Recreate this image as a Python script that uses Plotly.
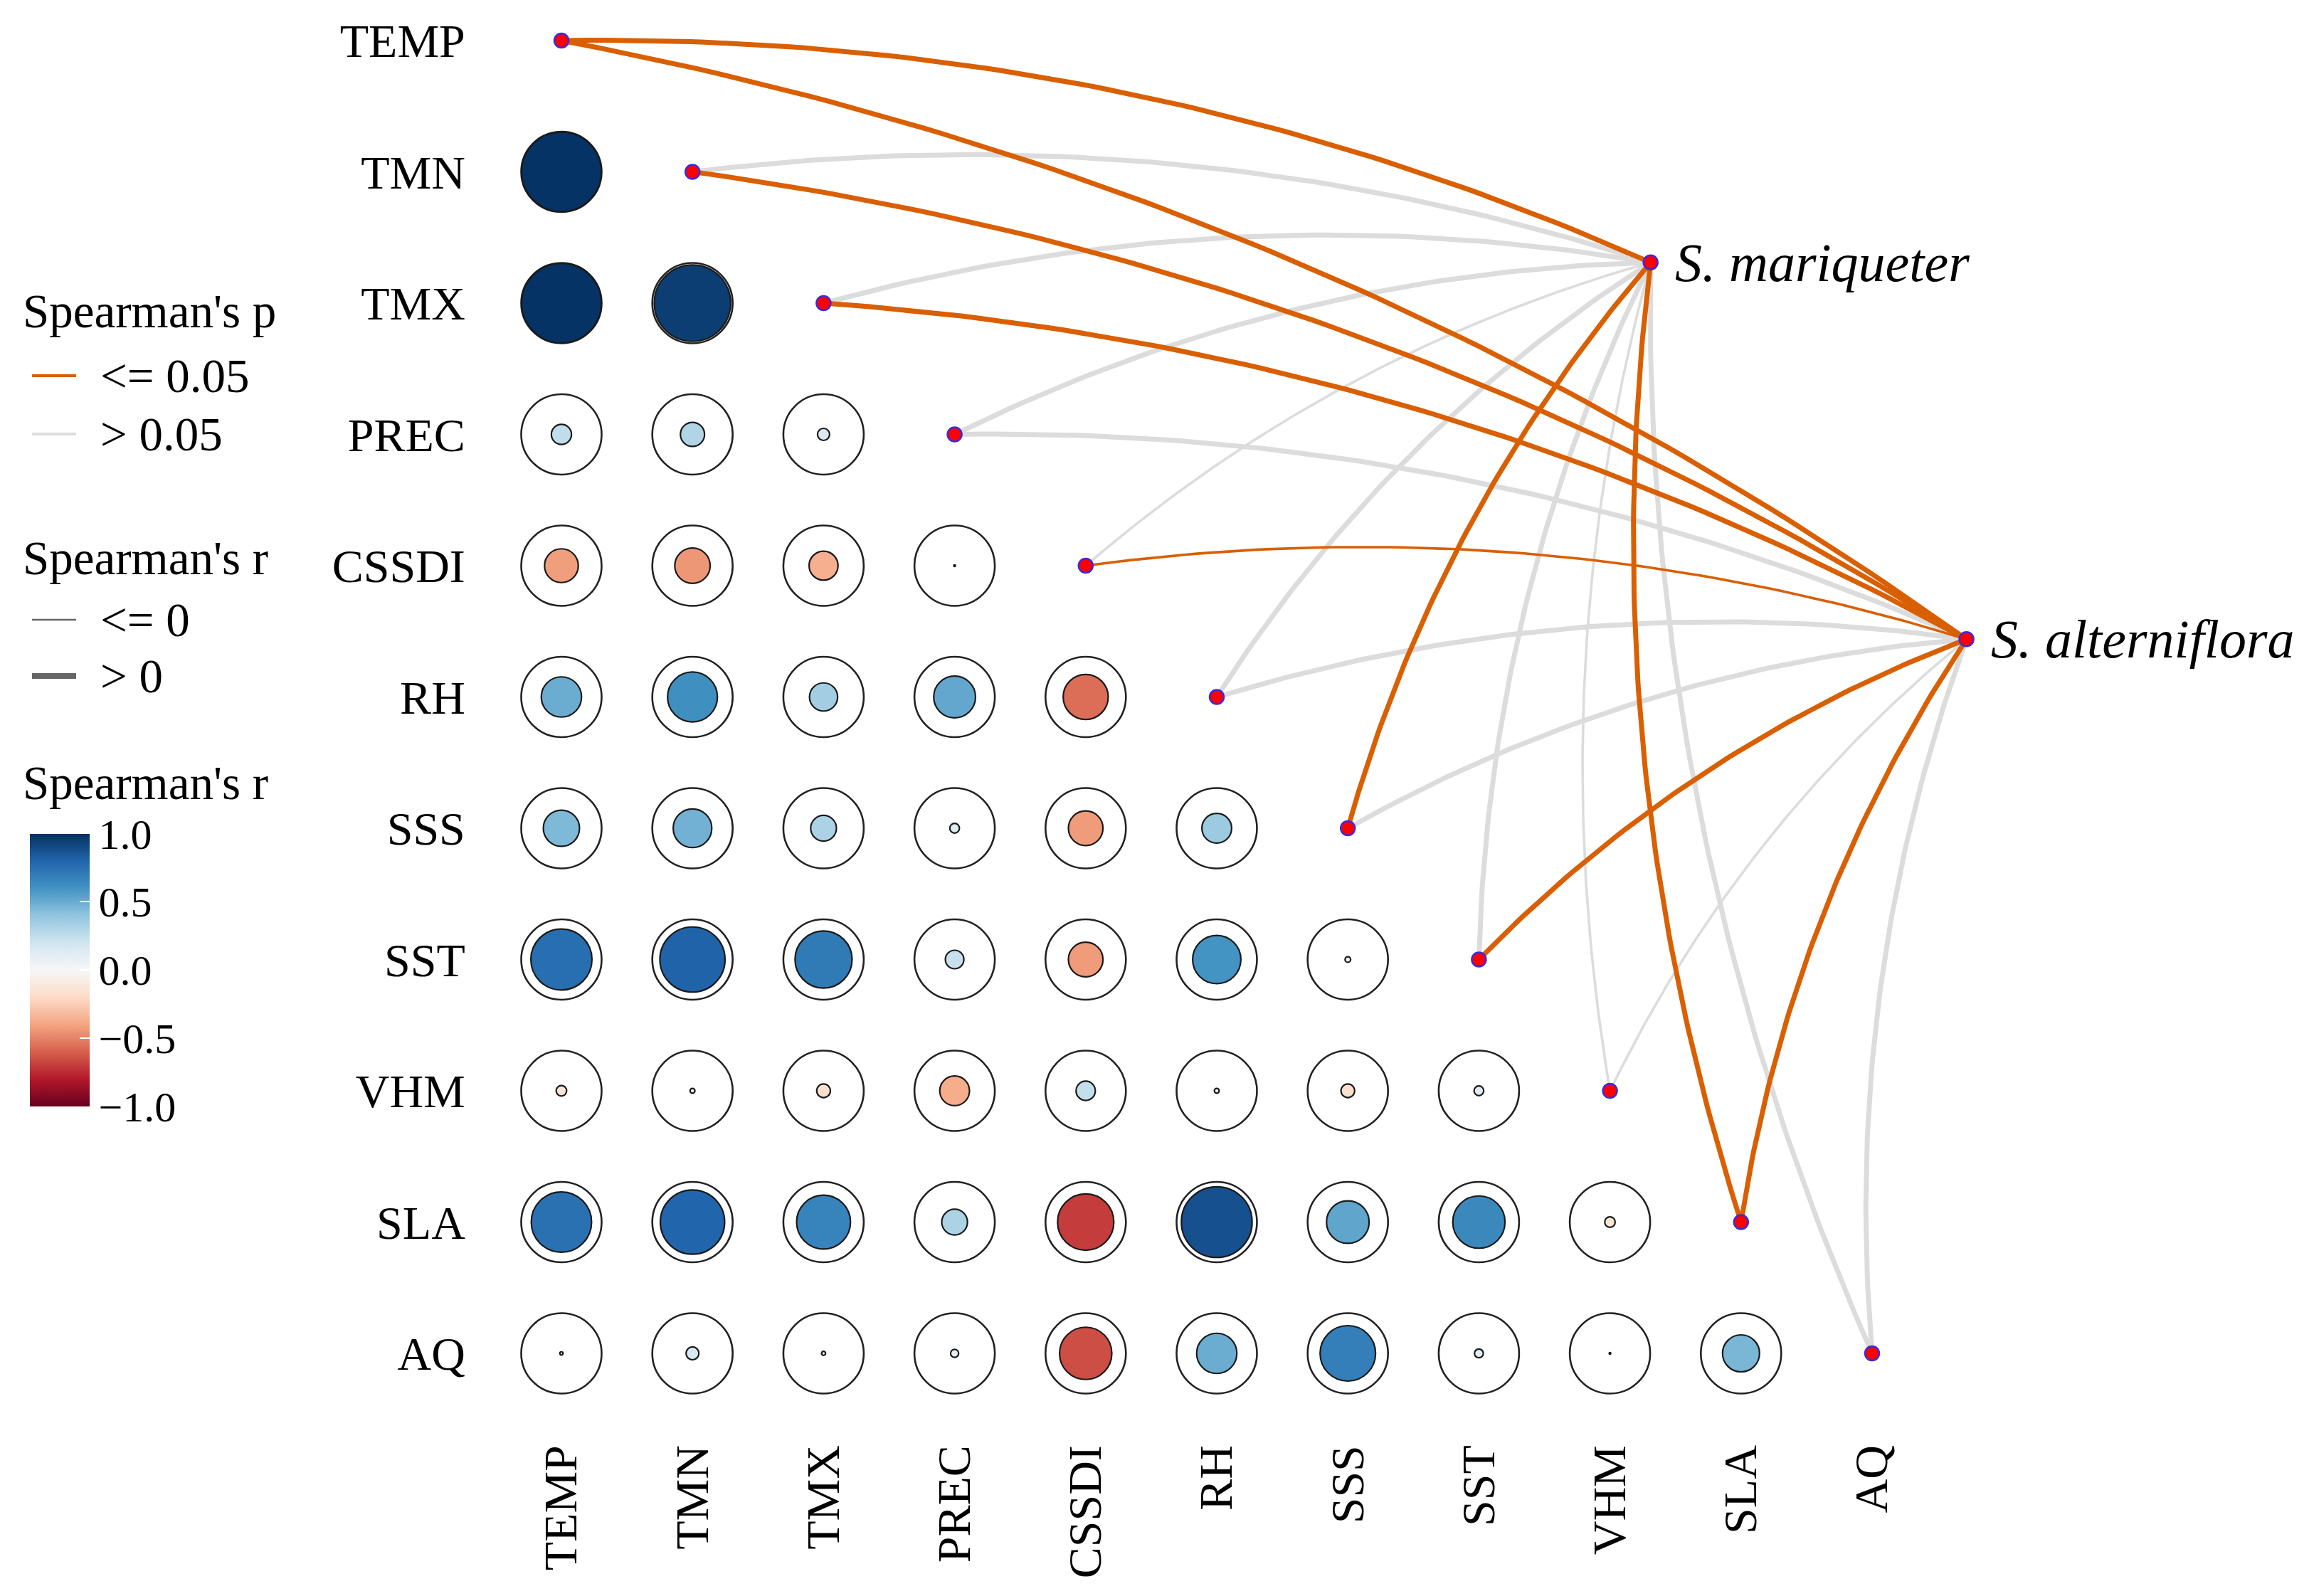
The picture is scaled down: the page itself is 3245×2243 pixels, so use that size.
import numpy as np
import plotly.graph_objects as go

# ---------------- data ----------------
variables = ["TEMP", "TMN", "TMX", "PREC", "CSSDI", "RH", "SSS", "SST", "VHM", "SLA", "AQ"]

# Spearman's r, lower triangle (row variable vs earlier column variables)
r_TMN = [0.99]
r_TMX = [0.99, 0.95]
r_PREC = [0.25, 0.30, 0.15]
r_CSSDI = [-0.42, -0.44, -0.36, -0.02]
r_RH = [0.50, 0.62, 0.35, 0.52, -0.56]
r_SSS = [0.45, 0.48, 0.32, 0.12, -0.43, 0.37]
r_SST = [0.76, 0.81, 0.71, 0.23, -0.43, 0.60, 0.07]
r_VHM = [-0.13, 0.06, -0.17, -0.37, 0.24, 0.06, -0.17, 0.12]
r_SLA = [0.75, 0.80, 0.67, 0.32, -0.70, 0.88, 0.53, 0.65, -0.13]
r_AQ = [0.04, 0.16, 0.05, 0.10, -0.65, 0.50, 0.69, 0.11, 0.02, 0.46]
r_rows = [[], r_TMN, r_TMX, r_PREC, r_CSSDI, r_RH, r_SSS, r_SST, r_VHM, r_SLA, r_AQ]

species = ["S. mariqueter", "S. alterniflora"]
species_x = [8.31, 10.72]   # node position (column units)
species_y = [1.69, 4.56]    # node position (row units)

# Mantel-type links: p class and r class for each variable
p_mariqueter = ["<=0.05", ">0.05", ">0.05", ">0.05", ">0.05", ">0.05", "<=0.05", ">0.05", ">0.05", "<=0.05", ">0.05"]
r_mariqueter = [">0", ">0", ">0", ">0", "<=0", ">0", ">0", ">0", "<=0", ">0", ">0"]
p_alterniflora = ["<=0.05", "<=0.05", "<=0.05", ">0.05", "<=0.05", ">0.05", ">0.05", "<=0.05", ">0.05", "<=0.05", ">0.05"]
r_alterniflora = [">0", ">0", ">0", ">0", "<=0", ">0", ">0", ">0", "<=0", ">0", ">0"]
p_classes = [p_mariqueter, p_alterniflora]
r_classes = [r_mariqueter, r_alterniflora]

# ---------------- style ----------------
W, H = 3245, 2243
ML, MR, MT, MB = 690, 0, 0, 234
X0_PX, DX_PX = 781, 184.2
Y0_PX, DY_PX = 49, 184.5
FONT = "Liberation Serif"
ORANGE = "#D95F02"
GRAY = "#DCDCDC"
P_COLOR = {"<=0.05": ORANGE, ">0.05": GRAY}
R_WIDTH = {">0": 7, "<=0": 3.6}
CURV = 0.11
OUTER = 113
RdBu = ['rgb(103,0,31)', 'rgb(178,24,43)', 'rgb(214,96,77)', 'rgb(244,165,130)',
        'rgb(253,219,199)', 'rgb(247,247,247)', 'rgb(209,229,240)', 'rgb(146,197,222)',
        'rgb(67,147,195)', 'rgb(33,102,172)', 'rgb(5,48,97)']
colorscale = [[i / 10, c] for i, c in enumerate(RdBu)]

xrange = [(ML - X0_PX) / DX_PX, (W - MR - X0_PX) / DX_PX]
yrange = [(H - MB - Y0_PX) / DY_PX, (MT - Y0_PX) / DY_PX]


def pxx(p):
    return (p - ML) / (W - ML - MR)


def pxy(p):
    return (H - MB - p) / (H - MT - MB)


fig = go.Figure()

# ---------------- correlation circles ----------------
cx, cy, cr = [], [], []
for i, row in enumerate(r_rows):
    for j, v in enumerate(row):
        cx.append(j)
        cy.append(i)
        cr.append(v)

fig.add_trace(go.Scatter(
    x=cx, y=cy, mode="markers", hoverinfo="skip", showlegend=False, cliponaxis=False,
    marker=dict(symbol="circle", size=OUTER, color="rgba(255,255,255,0)", opacity=1,
                line=dict(color="#222222", width=2.6))))

fig.add_trace(go.Scatter(
    x=cx, y=cy, mode="markers", showlegend=False, cliponaxis=False,
    customdata=cr, hovertemplate="r=%{customdata}<extra></extra>",
    marker=dict(symbol="circle", size=[abs(v) * OUTER for v in cr], color=cr, opacity=1,
                colorscale=colorscale, cmin=-1, cmax=1,
                line=dict(color="#1a1a1a", width=2.2),
                showscale=True,
                colorbar=dict(
                    x=pxx(34), xanchor="left", xpad=0, ypad=0,
                    y=pxy(1355), yanchor="middle",
                    lenmode="pixels", len=383, thickness=84,
                    outlinewidth=0,
                    tickvals=[-1, -0.5, 0, 0.5, 1],
                    ticktext=["\u22121.0", "\u22120.5", "0.0", "0.5", "1.0"],
                    ticks="inside", ticklen=14, tickwidth=2, tickcolor="white",
                    tickfont=dict(family=FONT, size=60, color="black"),
                ))))

# ---------------- links ----------------
t = np.linspace(0, 1, 80)
for layer in [">0.05", "<=0.05"]:
    for s in range(len(species)):
        for k, var in enumerate(variables):
            if p_classes[s][k] != layer:
                continue
            sx, sy = species_x[s], species_y[s]
            dx, dy = k - sx, k - sy
            L = np.hypot(dx, dy)
            nx, ny = -dy / L, dx / L
            mx, my = (sx + k) / 2, (sy + k) / 2
            ctrlx, ctrly = mx + nx * CURV * L, my + ny * CURV * L
            bx = (1 - t) ** 2 * sx + 2 * (1 - t) * t * ctrlx + t ** 2 * k
            by = (1 - t) ** 2 * sy + 2 * (1 - t) * t * ctrly + t ** 2 * k
            fig.add_trace(go.Scatter(
                x=bx, y=by, mode="lines", showlegend=False, hoverinfo="skip",
                line=dict(color=P_COLOR[layer], width=R_WIDTH[r_classes[s][k]])))

# ---------------- nodes ----------------
fig.add_trace(go.Scatter(
    x=list(range(len(variables))) + species_x,
    y=list(range(len(variables))) + species_y,
    mode="markers", showlegend=False, cliponaxis=False, hoverinfo="skip",
    marker=dict(symbol="circle", size=20, color="#FF0000", opacity=1,
                line=dict(color="#3A2BE0", width=2.5))))

annotations = []
for s in range(len(species)):
    annotations.append(dict(
        x=species_x[s], y=species_y[s], xref="x", yref="y", xanchor="left", yanchor="middle",
        xshift=32, showarrow=False, text="<i>" + species[s] + "</i>",
        font=dict(family=FONT, size=76, color="black")))

# ---------------- manual legend ----------------
legend_items = [
    ("title", "Spearman's p", 429, None, None),
    ("item", "<= 0.05", 520, ORANGE, 4),
    ("item", "> 0.05", 602, GRAY, 4),
    ("title", "Spearman's r", 776, None, None),
    ("item", "<= 0", 863, "#666666", 2.6),
    ("item", "> 0", 942, "#666666", 8),
    ("title", "Spearman's r", 1092, None, None),
]
shapes = []
for kind, text, ypx, col, w in legend_items:
    if kind == "title":
        annotations.append(dict(x=pxx(22), y=pxy(ypx), xref="paper", yref="paper",
                                xanchor="left", yanchor="middle", showarrow=False, text=text,
                                font=dict(family=FONT, size=67, color="black")))
    else:
        shapes.append(dict(type="line", xref="paper", yref="paper",
                           x0=pxx(37), x1=pxx(99), y0=pxy(ypx), y1=pxy(ypx),
                           line=dict(color=col, width=w)))
        annotations.append(dict(x=pxx(131), y=pxy(ypx), xref="paper", yref="paper",
                                xanchor="left", yanchor="middle", showarrow=False, text=text,
                                font=dict(family=FONT, size=67, color="black")))

fig.update_layout(
    width=W, height=H,
    margin=dict(l=ML, r=MR, t=MT, b=MB, pad=0),
    paper_bgcolor="white", plot_bgcolor="white",
    shapes=shapes, annotations=annotations,
    xaxis=dict(range=xrange, tickmode="array", tickvals=list(range(len(variables))),
               ticktext=variables, tickangle=-90, showgrid=False, zeroline=False,
               showline=False, ticks="",
               tickfont=dict(family=FONT, size=66, color="black")),
    yaxis=dict(range=yrange, tickmode="array", tickvals=list(range(len(variables))),
               ticktext=variables, showgrid=False, zeroline=False, showline=False,
               ticks="outside", ticklen=30, tickcolor="rgba(0,0,0,0)",
               tickfont=dict(family=FONT, size=66, color="black")),
)

fig.write_html("out.html")
